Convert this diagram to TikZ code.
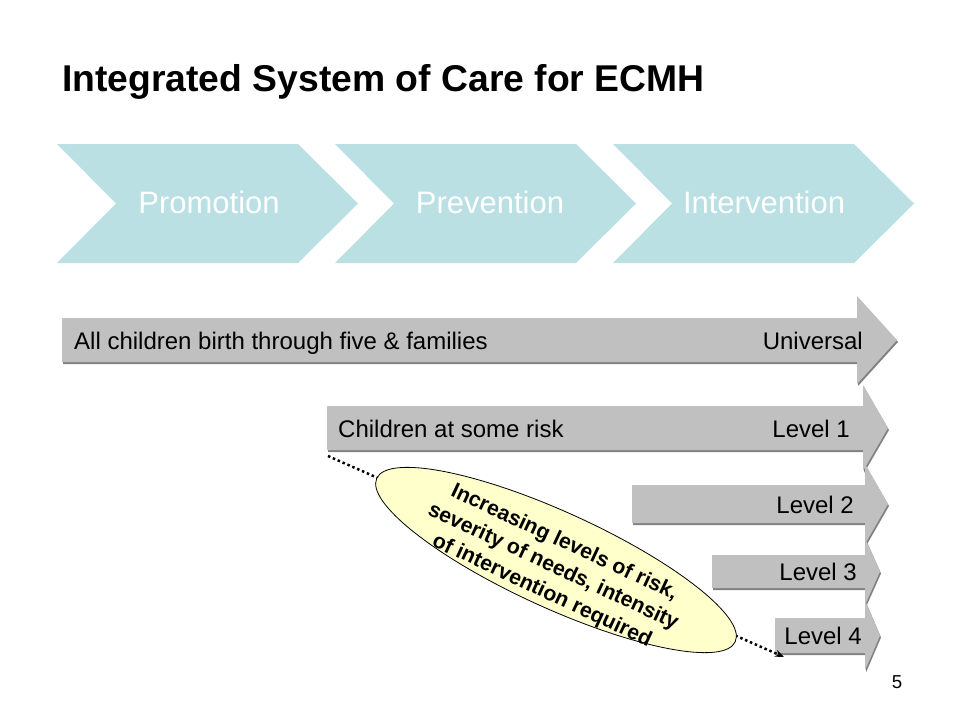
\documentclass[tikz,border=0pt]{standalone}
\usepackage{fontspec}
\setmainfont{Liberation Sans}
\usetikzlibrary{shapes.geometric,arrows.meta}
\definecolor{chev}{RGB}{186,224,228}
\definecolor{arrfill}{RGB}{192,192,192}
\definecolor{arrshadow}{RGB}{130,130,130}
\definecolor{ellfill}{RGB}{255,255,204}
\newcommand\chevronshape[2]{%
  \path[chevron] (#2,144) -- ({#2+241},144) -- ({#2+301},203.5) -- ({#2+241},263) -- (#2,263) -- ({#2+59},203.5) -- cycle;
  \coordinate (#1) at ({#2+150},203.5);
}
\newcommand\grayarrowshape[7]{%
  \path[grayshadow,xshift=1pt,yshift=-2pt] (#2,{#5-#6}) -- (#3,{#5-#6}) -- (#3,{#5-#7}) -- (#4,#5) -- (#3,{#5+#7}) -- (#3,{#5+#6}) -- (#2,{#5+#6}) -- cycle;
  \path[grayarr] (#2,{#5-#6}) -- (#3,{#5-#6}) -- (#3,{#5-#7}) -- (#4,#5) -- (#3,{#5+#7}) -- (#3,{#5+#6}) -- (#2,{#5+#6}) -- cycle;
  \coordinate (#1) at (#2,#5);
}
\begin{document}
\begin{tikzpicture}[x=1pt,y=-1pt,
  chevron/.style={fill=chev,draw=none},
  chevtext/.style={text=white,font=\fontsize{31}{37}\selectfont,anchor=base,inner sep=0pt},
  grayarr/.style={fill=arrfill,draw=none},
  grayshadow/.style={fill=arrshadow,draw=none},
  arrtext/.style={font=\fontsize{24}{28}\selectfont,inner sep=0pt},
  dotline/.style={line width=2.5pt,dash pattern=on 2.5pt off 2.8pt,-{Stealth[length=9pt,width=7pt]}},
  ellbox/.style={ellipse,draw=black,line width=0.8pt,fill=ellfill,minimum width=394pt,minimum height=96pt,inner sep=0pt},
  elltext/.style={font=\bfseries\fontsize{21.3}{26.5}\selectfont,align=center,inner sep=0pt}
]
\useasboundingbox (0,0) rectangle (960,720);

% title
\node[anchor=base west,inner sep=0pt,font=\bfseries\fontsize{37.3}{44}\selectfont] (title) at (62,91) {Integrated System of Care for ECMH};

% chevrons
\chevronshape{promo}{57}
\chevronshape{prev}{335}
\chevronshape{interv}{613}
\node[chevtext] (tpromo) at (209,213) {Promotion};
\node[chevtext] (tprev) at (490,213) {Prevention};
\node[chevtext] (tinterv) at (764,213) {Intervention};

% gray arrows
\grayarrowshape{uni}{62}{857}{897}{340}{22}{44}
\grayarrowshape{lone}{327}{863}{888}{428}{22}{43}
\grayarrowshape{ltwo}{632}{865}{888}{504}{19}{40}
\grayarrowshape{lthree}{712}{865}{880}{571.5}{16.5}{33.5}
\grayarrowshape{lfour}{775}{865}{880}{635.5}{17.5}{35}

\node[arrtext,anchor=base west] (tall) at (74,349) {All children birth through five \& families};
\node[arrtext,anchor=base east] (tuni) at (863,349) {Universal};
\node[arrtext,anchor=base west] (tchild) at (338,437) {Children at some risk};
\node[arrtext,anchor=base east] (tlone) at (850,437) {Level 1};
\node[arrtext,anchor=base east] (tltwo) at (854,513) {Level 2};
\node[arrtext,anchor=base east] (tlthree) at (857,580) {Level 3};
\node[arrtext,anchor=base east] (tlfour) at (862,644) {Level 4};

% dotted arrow and ellipse
\coordinate (dstart) at (328,456);
\coordinate (dend) at (784,657);
\draw[dotline] (dstart) -- (dend);
\node[ellbox,rotate=-24.5] (ell) at (556,560) {};
\node[elltext,rotate=-25] (elltxt) at (553,567) {Increasing levels of risk,\\severity of needs, intensity\\of intervention required};

% page number
\node[font=\fontsize{18.7}{22}\selectfont,inner sep=0pt] (page) at (897,682) {5};
\end{tikzpicture}
\end{document}
